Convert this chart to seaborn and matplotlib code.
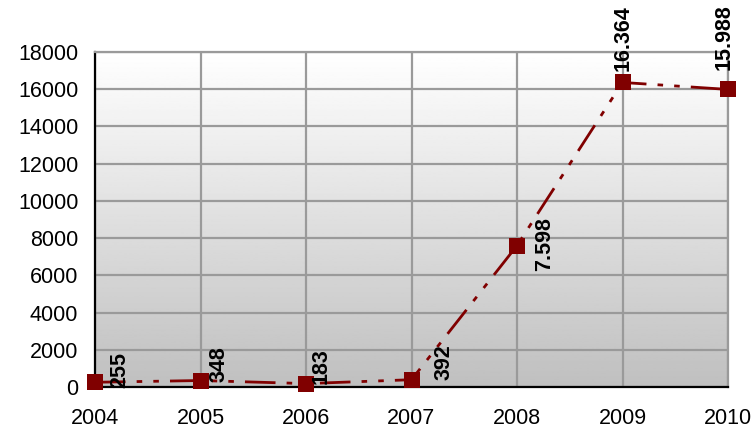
import numpy as np
import pandas as pd
import seaborn as sns
import matplotlib
import matplotlib.pyplot as plt

matplotlib.use('Agg')

# data
years = [2004, 2005, 2006, 2007, 2008, 2009, 2010]
values = [255, 348, 183, 392, 7598, 16364, 15988]
y_ticks = [0, 2000, 4000, 6000, 8000, 10000, 12000, 14000, 16000, 18000]

# where each value label sits relative to its point (pixels)
label_offsets = [(25, 12), (19, 16), (15, 17), (33, 18), (28, 2), (1, 44), (-4, 52)]

df = pd.DataFrame({'year': years, 'value': values})

sns.set_theme(style='white')
plt.rcParams['font.family'] = ['Liberation Sans', 'DejaVu Sans']

fig = plt.figure(figsize=(7.53, 4.29), dpi=100)
ax = fig.add_axes([95 / 753, 1 - 387 / 429, (728 - 95) / 753, (387 - 52) / 429])

# grey gradient background, white at the top
grad = np.linspace(1.0, 0.75, 256).reshape(-1, 1)
ax.imshow(grad, cmap='gray', vmin=0, vmax=1, aspect='auto',
          extent=[0, 1, 0, 1], transform=ax.transAxes, zorder=0)

sns.lineplot(data=df, x='year', y='value', ax=ax, color='#800000',
             linewidth=2, marker='s', markersize=11.5, markeredgewidth=0,
             clip_on=False, zorder=5)
ax.lines[0].set_dashes([11, 4, 2, 4, 2, 4])
ax.lines[0].set_dash_capstyle('butt')

for x, y, (dx, dy) in zip(years, values, label_offsets):
    txt = f'{y:,}'.replace(',', '.')
    ax.annotate(txt, (x, y), xytext=(dx, dy), textcoords='offset pixels',
                rotation=90, ha='center', va='center', fontsize=15.5,
                fontweight='bold', color='black', annotation_clip=False, zorder=6)

ax.set_xlim(2004, 2010)
ax.set_ylim(0, 18000)
ax.set_xticks(years)
ax.set_yticks(y_ticks)
ax.set_xlabel('')
ax.set_ylabel('')
ax.grid(True, color='#9a9a9a', linewidth=1.6, zorder=1)
ax.set_axisbelow(True)

for side in ['top', 'right']:
    ax.spines[side].set_color('#9a9a9a')
    ax.spines[side].set_linewidth(1.6)
for side in ['left', 'bottom']:
    ax.spines[side].set_color('black')
    ax.spines[side].set_linewidth(1.6)

ax.tick_params(axis='both', which='major', direction='out', length=7, width=1.4,
               color='black', labelsize=15.5, labelcolor='black')
ax.tick_params(axis='y', pad=5)
ax.tick_params(axis='x', pad=8)

fig.savefig('out.png', dpi=100)
plt.close(fig)
